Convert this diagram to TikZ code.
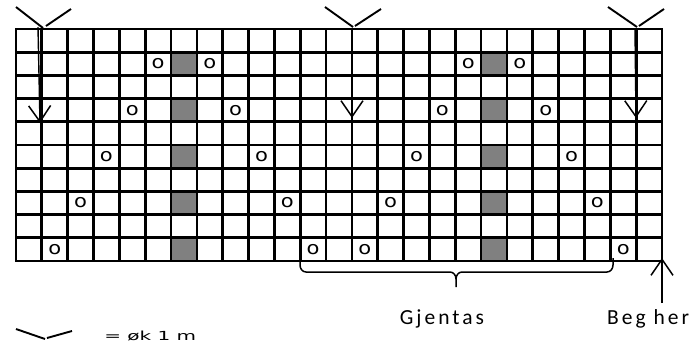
\documentclass[tikz,border=0pt]{standalone}
\usepackage{fontspec}
\setmainfont{Carlito}
\newfontfamily\dvs{DejaVu Sans}
\newfontfamily\carls[LetterSpace=14]{Carlito}
\usetikzlibrary{arrows.meta}
\tikzset{
  gridline/.style={line width=2.7pt, line cap=rect},
  graycell/.style={fill=black!50, draw=none},
  onode/.style={inner sep=0pt, font=\dvs\fontsize{18}{20}\selectfont},
  arr/.style={line width=1.4pt, -{Straight Barb[length=16pt,width=22pt,line width=1.5pt]}},
  varm/.style={line width=1.9pt},
  brace/.style={line width=1.5pt},
  lbl/.style={inner sep=0pt, font=\carls\fontsize{21.5}{24}\selectfont},
  legtext/.style={inner sep=0pt, font=\dvs\fontsize{12.5}{14}\selectfont},
}
\begin{document}
\begin{tikzpicture}[x=1pt,y=-1pt]
\useasboundingbox (0,0) rectangle (694,349);
\def\cw{25.84}
\def\ch{23.2}
% gray cells
\foreach \k in {0,...,4}{
  \fill[graycell] (16+6*\cw, 29+\ch+2*\k*\ch) rectangle (16+7*\cw, 29+2*\ch+2*\k*\ch);
  \fill[graycell] (16+18*\cw, 29+\ch+2*\k*\ch) rectangle (16+19*\cw, 29+2*\ch+2*\k*\ch);
}
% grid
\foreach \i in {0,...,25}
  \draw[gridline] (16+\i*\cw, 29) -- (16+\i*\cw, 261);
\foreach \j in {0,...,10}
  \draw[gridline] (16, 29+\j*\ch) -- (662, 29+\j*\ch);
% o marks
\foreach \k in {0,...,4}{
  \pgfmathtruncatemacro\ca{5-\k}
  \pgfmathtruncatemacro\cb{7+\k}
  \pgfmathtruncatemacro\cc{17-\k}
  \pgfmathtruncatemacro\cd{19+\k}
  \pgfmathsetmacro\yy{29+\ch*1.5+2*\k*\ch}
  \foreach \c in {\ca,\cb,\cc,\cd}{
    \begin{scope}[shift={(16+\c*\cw+0.5*\cw, \yy)}, xscale=1.17, transform shape]
      \node[onode] (o-\k-\c) at (0,0) {o};
    \end{scope}
  }
}
% top V marks
\coordinate (v1a) at (16,7);  \coordinate (v1b) at (43,28);
\coordinate (v1c) at (46,26); \coordinate (v1d) at (71,9);
\coordinate (v2a) at (325,7); \coordinate (v2b) at (353,27);
\coordinate (v2c) at (355,26);\coordinate (v2d) at (381,9);
\coordinate (v3a) at (608,7); \coordinate (v3b) at (637,27);
\coordinate (v3c) at (639,26);\coordinate (v3d) at (664,9);
\draw[varm] (v1a) -- (v1b); \draw[varm] (v1c) -- (v1d);
\draw[varm] (v2a) -- (v2b); \draw[varm] (v2c) -- (v2d);
\draw[varm] (v3a) -- (v3b); \draw[varm] (v3c) -- (v3d);
% down arrows
\coordinate (a1s) at (38,27);  \coordinate (a1e) at (40,123);
\coordinate (a2s) at (352,29); \coordinate (a2e) at (352,118);
\coordinate (a3s) at (635,29); \coordinate (a3e) at (636,118);
\draw[arr] (a1s) -- (a1e);
\draw[arr] (a2s) -- (a2e);
\draw[arr] (a3s) -- (a3e);
% brace
\draw[brace] (300,258) -- (300,265) to[out=-90,in=180] (306,272) -- (450,272)
  to[out=0,in=90] (456,279) -- (456,287);
\draw[brace] (456,279) to[out=90,in=180] (462,272) -- (607,272)
  to[out=0,in=-90] (613,265) -- (613,258);
% labels
\node[lbl, anchor=base] (gj) at (442,324) {Gjentas};
\node[lbl, anchor=base west] (beg) at (607,324) {Beg her};
\coordinate (bs) at (662,303); \coordinate (be) at (662,258);
\draw[arr] (bs) -- (be);
% legend
\coordinate (l1a) at (16,329); \coordinate (l1b) at (45,339);
\coordinate (l1c) at (47,338); \coordinate (l1d) at (72,331);
\draw[varm] (l1a) -- (l1b); \draw[varm] (l1c) -- (l1d);
\begin{scope}[shift={(104,340)}, xscale=1.6, transform shape]
  \node[legtext, anchor=base west] (leg) at (0,0) {= øk 1 m};
\end{scope}
\end{tikzpicture}
\end{document}
